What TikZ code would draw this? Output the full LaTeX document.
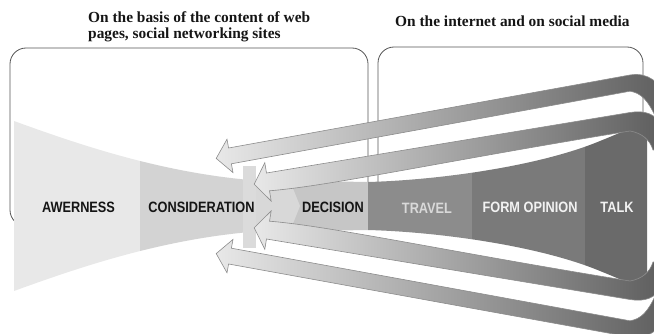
\documentclass[tikz,border=0pt]{standalone}
\usepackage{fontspec}
\setmainfont{Liberation Serif}
\newfontfamily\labfont[FakeStretch=0.85]{Liberation Sans}
\definecolor{awc}{HTML}{E8E8E8}
\definecolor{coc}{HTML}{D3D3D3}
\definecolor{barc}{HTML}{DBDBDB}
\definecolor{delc}{HTML}{D8D8D8}
\definecolor{dec}{HTML}{C6C6C6}
\definecolor{trc}{HTML}{8C8C8C}
\definecolor{foc}{HTML}{7A7A7A}
\definecolor{tac}{HTML}{6A6A6A}
\definecolor{bandL}{HTML}{E8E8E8}
\definecolor{bandR}{HTML}{5E5E5E}
\definecolor{txtd}{HTML}{151515}
\definecolor{boxc}{HTML}{555555}
\begin{document}
\begin{tikzpicture}[x=1pt,y=-1pt,
  box/.style={draw=boxc, line width=0.8pt, rounded corners=16pt},
  band/.style={left color=bandL, right color=bandR, draw=black!45, line width=0.6pt},
  lab/.style={font=\labfont\bfseries\fontsize{15}{15}\selectfont, inner sep=0pt},
  ttl/.style={font=\bfseries\fontsize{15.4}{16}\selectfont, inner sep=0pt, text=txtd}]
\useasboundingbox (0,0) rectangle (654,334);
\clip (0,0) rectangle (654,334);
% boxes
\draw[box] (10,48) rectangle (368,226);
\draw[box] (378,47) rectangle (643,226);
% funnel
\begin{scope}
\clip (14,121) .. controls (80,145) and (160,172) .. (250,180) -- (368,182)
  .. controls (440,180) and (540,166) .. (600,141) .. controls (620,133) and (635,126) .. (647,121)
  -- (647,291) .. controls (635,286) and (620,279) .. (600,271)
  .. controls (540,246) and (440,232) .. (368,230) -- (250,232)
  .. controls (160,240) and (80,267) .. (14,291) -- cycle;
\fill[awc] (0,0) rectangle (140,334);
\fill[coc] (140,0) rectangle (256,334);
\fill[dec] (256,0) rectangle (368,334);
\fill[delc] (256,170) -- (290,170) -- (290,181) -- (300,206) -- (290,231) -- (290,240) -- (256,240) -- cycle;
\fill[trc] (368,0) rectangle (472,334);
\fill[foc] (472,0) rectangle (585,334);
\fill[tac] (585,0) rectangle (660,334);
\end{scope}
\fill[barc] (243,166) rectangle (256,248);
% bands (upper)
\path[band] (216.2,158.4) -- (227,139.2) -- (228.6,148) -- (630,75)
  .. controls (648,72) and (660,82) .. (668,100) -- (668,118) -- (656,118)
  .. controls (648,100) and (641,93) .. (630,91.2) -- (231.4,163.8) -- (233,172.6) -- cycle;
\path[band] (254.2,184.2) -- (264.8,162.7) -- (266.5,173) -- (630,112.5)
  .. controls (645,110) and (655,114) .. (662,125) -- (662,150) -- (653,150)
  .. controls (650,140) and (642,133) .. (630,131)
  .. controls (450,160) and (330,186) .. (269.5,190.8) -- (271.2,201.1) -- cycle;
% bands (lower, mirrored about y=206)
\begin{scope}[yshift=-412pt, yscale=-1]
\path[band] (216.2,158.4) -- (227,139.2) -- (228.6,148) -- (630,75)
  .. controls (648,72) and (660,82) .. (668,100) -- (668,118) -- (656,118)
  .. controls (648,100) and (641,93) .. (630,91.2) -- (231.4,163.8) -- (233,172.6) -- cycle;
\path[band] (254.2,184.2) -- (264.8,162.7) -- (266.5,173) -- (630,112.5)
  .. controls (645,110) and (655,114) .. (662,125) -- (662,150) -- (653,150)
  .. controls (650,140) and (642,133) .. (630,131)
  .. controls (450,160) and (330,186) .. (269.5,190.8) -- (271.2,201.1) -- cycle;
\end{scope}
% labels
\node[lab, text=txtd] (aw) at (78.5,207) {AWERNESS};
\node[lab, text=txtd] (co) at (201.5,207) {CONSIDERATION};
\node[lab, text=txtd] (de) at (333,207) {DECISION};
\node[lab, text=black!15] (tr) at (427,208) {TRAVEL};
\node[lab, text=black!5] (fo) at (530,207) {FORM OPINION};
\node[lab, text=black!5] (ta) at (617,207) {TALK};
% titles
\node[ttl, anchor=base west] (t1) at (88,22.3) {On the basis of the content of web};
\node[ttl, anchor=base west] (t2) at (88,38.3) {pages, social networking sites};
\node[ttl, anchor=base west] (t3) at (395,26.7) {On the internet and on social media};
\end{tikzpicture}
\end{document}
